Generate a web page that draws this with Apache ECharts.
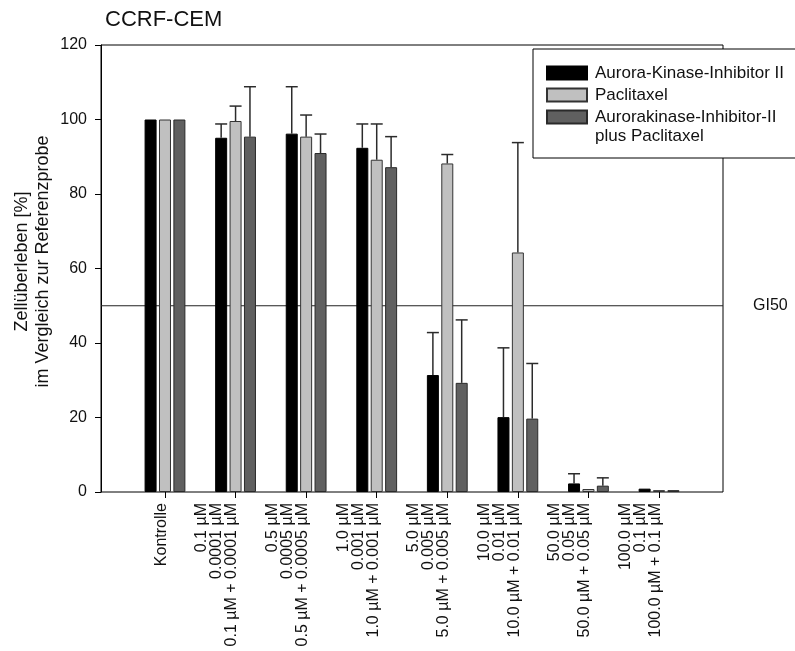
<!DOCTYPE html>
<html>
<head>
<meta charset="utf-8">
<script src="https://cdn.jsdelivr.net/npm/echarts@6/dist/echarts.min.js"></script>
<style>
  html, body { margin: 0; padding: 0; background: #fff; }
  #chart { width: 795px; height: 651px; }
</style>
</head>
<body>
<div id="chart"></div>
<script>
// ---- data ----
const titleText = 'CCRF-CEM';
const categories = [
  'Kontrolle',
  '0.1 µM\n0.0001 µM\n0.1 µM + 0.0001 µM',
  '0.5 µM\n0.0005 µM\n0.5 µM + 0.0005 µM',
  '1.0 µM\n0.001 µM\n1.0 µM + 0.001 µM',
  '5.0 µM\n0.005 µM\n5.0 µM + 0.005 µM',
  '10.0 µM\n0.01 µM\n10.0 µM + 0.01 µM',
  '50.0 µM\n0.05 µM\n50.0 µM + 0.05 µM',
  '100.0 µM\n0.1 µM\n100.0 µM + 0.1 µM'
];
const seriesNames = ['Aurora-Kinase-Inhibitor II', 'Paclitaxel', 'Aurorakinase-Inhibitor-II\nplus Paclitaxel'];
const auroraValues = [100, 95.1, 96.2, 92.4, 31.4, 20.1, 2.3, 0.9];
const paclitaxelValues = [100, 99.6, 95.4, 89.2, 88.2, 64.3, 0.8, 0.5];
const comboValues = [100, 95.4, 91.0, 87.2, 29.3, 19.7, 1.7, 0.5];
const auroraSD = [0, 3.7, 12.6, 6.4, 11.4, 18.6, 2.6, 0];
const paclitaxelSD = [0, 4.0, 5.8, 9.6, 2.4, 29.5, 0, 0];
const comboSD = [0, 13.4, 5.1, 8.2, 16.9, 14.8, 2.1, 0];
const yTicks = [0, 20, 40, 60, 80, 100, 120];
const gi50 = 50;
const gi50Label = 'GI50';
const yName = 'Zellüberleben [%]\nim Vergleich zur Referenzprobe';

// ---- styles ----
const FONT = '"Liberation Sans", Arial, sans-serif';
const barColors = ['#000000', '#c0c0c0', '#606060'];
const barBorders = ['#000000', '#333333', '#2a2a2a'];
const BAR_W = 12;
const BAR_GAP = 0.2;
const STEP = BAR_W * (1 + BAR_GAP);
const LEGEND_FS = 17;

const valuesList = [auroraValues, paclitaxelValues, comboValues];
const sdList = [auroraSD, paclitaxelSD, comboSD];

const chart = echarts.init(document.getElementById('chart'), null, { renderer: 'canvas' });

const barSeries = valuesList.map((vals, k) => ({
  name: seriesNames[k],
  type: 'bar',
  xAxisIndex: 1,
  yAxisIndex: 1,
  data: vals,
  barWidth: BAR_W,
  barGap: (BAR_GAP * 100) + '%',
  itemStyle: { color: barColors[k], borderColor: barBorders[k], borderWidth: 1 },
  emphasis: { disabled: true },
  z: 2
}));

const errSeries = valuesList.map((vals, k) => ({
  type: 'custom',
  xAxisIndex: 1,
  yAxisIndex: 1,
  data: vals.map((v, i) => [i, v, sdList[k][i]]),
  z: 3,
  silent: true,
  renderItem: function (params, api) {
    const i = api.value(0), v = api.value(1), sd = api.value(2);
    if (!sd) return null;
    const base = api.coord([i, v]);
    const top = api.coord([i, v + sd]);
    const x = base[0] + (k - 1) * STEP;
    const st = { stroke: '#2b2b2b', lineWidth: 1.5 };
    return {
      type: 'group',
      children: [
        { type: 'line', shape: { x1: x, y1: base[1], x2: x, y2: top[1] }, style: st },
        { type: 'line', shape: { x1: x - BAR_W / 2, y1: top[1], x2: x + BAR_W / 2, y2: top[1] }, style: st }
      ]
    };
  }
}));

const legendLines = seriesNames[2].split('\n');

const option = {
  animation: false,
  backgroundColor: '#ffffff',
  title: {
    text: titleText,
    left: 100,
    top: 4,
    textStyle: { fontFamily: FONT, fontSize: 22, fontWeight: 'normal', color: '#111' }
  },
  legend: {
    orient: 'vertical',
    left: 533,
    top: 49,
    padding: [15, 13, 32, 13],
    itemWidth: 40,
    itemHeight: 13,
    itemGap: 4,
    icon: 'rect',
    borderColor: '#000',
    borderWidth: 1,
    backgroundColor: '#fff',
    selectedMode: false,
    formatter: name => name.split('\n')[0],
    textStyle: { fontFamily: FONT, fontSize: LEGEND_FS, color: '#111', lineHeight: 18, padding: [0, 0, 0, 3] },
    data: seriesNames.map(n => ({ name: n })),
    z: 10
  },
  graphic: [
    {
      type: 'text',
      left: 595,
      top: 128,
      z: 20,
      style: { text: legendLines[1], font: LEGEND_FS + 'px ' + FONT, fill: '#111' }
    }
  ],
  grid: [
    { left: 101, right: 72, top: 45, bottom: 159, show: true, borderColor: '#000', borderWidth: 1, backgroundColor: 'transparent' },
    { left: 129.7, right: 100.7, top: 45, bottom: 159 }
  ],
  xAxis: [
    { type: 'value', gridIndex: 0, min: 0, max: 1, show: false },
    {
      type: 'category', gridIndex: 1, data: categories,
      axisLine: { show: false },
      axisTick: { show: true, alignWithLabel: true, length: 6, lineStyle: { color: '#000' } },
      axisLabel: {
        rotate: 90, interval: 0, margin: 11,
        fontFamily: FONT, fontSize: 16, lineHeight: 15, color: '#111',
        verticalAlign: 'bottom', padding: [0, 0, -4, 0]
      },
      splitLine: { show: false }
    }
  ],
  yAxis: [
    {
      type: 'value', gridIndex: 0, min: yTicks[0], max: yTicks[yTicks.length - 1], interval: 20,
      axisLine: { show: true, lineStyle: { color: '#000' } },
      axisTick: { show: true, length: 6, lineStyle: { color: '#000' } },
      axisLabel: { margin: 14, fontFamily: FONT, fontSize: 16, color: '#111' },
      splitLine: { show: false },
      name: yName,
      nameLocation: 'middle',
      nameGap: 47,
      nameMoveOverlap: false,
      nameTextStyle: { fontFamily: FONT, fontSize: 18, lineHeight: 21, color: '#111', padding: [0, 0, 0, 14] }
    },
    {
      type: 'value', gridIndex: 1, min: yTicks[0], max: yTicks[yTicks.length - 1], interval: 20, show: false
    }
  ],
  series: [
    {
      type: 'line', xAxisIndex: 0, yAxisIndex: 0,
      data: [[0, gi50], [1, gi50]],
      symbol: 'none', silent: true,
      lineStyle: { color: '#222', width: 1 },
      endLabel: { show: true, formatter: gi50Label, distance: 30, fontFamily: FONT, fontSize: 16, color: '#111' },
      z: 1
    },
    ...barSeries,
    ...errSeries
  ]
};

chart.setOption(option);
</script>
</body>
</html>
